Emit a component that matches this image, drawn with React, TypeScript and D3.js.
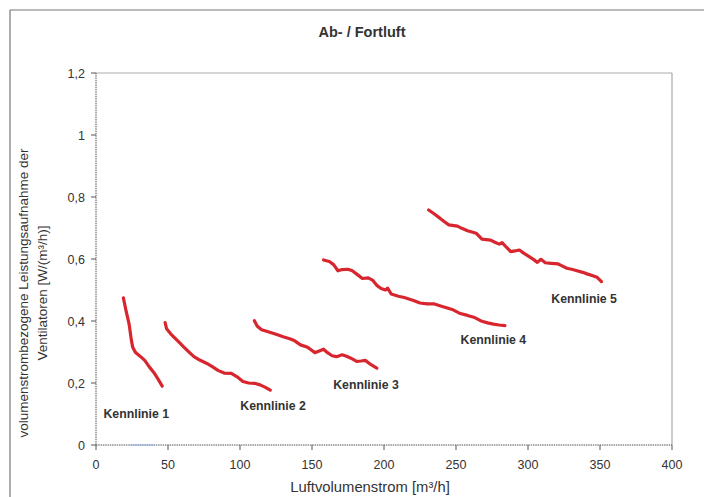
import { line, scaleLinear } from 'd3';

type Pt = [number, number];

const title = 'Ab- / Fortluft';
const xTitle = 'Luftvolumenstrom [m³/h]';
const yTitleLines = ['volumenstrombezogene Leistungsaufnahme der', 'Ventilatoren [W/(m³/h)]'];

const xTicks = [0, 50, 100, 150, 200, 250, 300, 350, 400];
const yTicks = [0, 0.2, 0.4, 0.6, 0.8, 1, 1.2];

const kennlinie1: Pt[] = [
  [19, 0.475], [21, 0.43], [23, 0.39], [24.5, 0.34], [25.5, 0.315], [27.5, 0.298],
  [31, 0.285], [34, 0.272], [37, 0.252], [40, 0.235], [43, 0.213], [46, 0.19],
];
const kennlinie2: Pt[] = [
  [48, 0.395], [49, 0.375], [52, 0.358], [55, 0.344], [58, 0.33], [61, 0.316], [65, 0.298],
  [68, 0.285], [72, 0.274], [77, 0.263], [81, 0.252], [85, 0.24], [89, 0.232], [94, 0.231],
  [98, 0.22], [102, 0.205], [106, 0.2], [110, 0.199], [114, 0.194], [118, 0.185], [121, 0.177],
];
const kennlinie3: Pt[] = [
  [110, 0.401], [112, 0.383], [115, 0.372], [119, 0.366], [125, 0.357], [130, 0.349],
  [135, 0.342], [138, 0.336], [142, 0.323], [147, 0.315], [150, 0.305], [152, 0.298],
  [155, 0.303], [158, 0.309], [161, 0.297], [164, 0.288], [167, 0.285], [171, 0.291],
  [174, 0.286], [177, 0.28], [181, 0.27], [184, 0.271], [187, 0.273], [191, 0.259], [195, 0.248],
];
const kennlinie4: Pt[] = [
  [158, 0.597], [162, 0.592], [165, 0.582], [168, 0.562], [171, 0.566], [175, 0.567],
  [178, 0.562], [182, 0.548], [185, 0.537], [189, 0.539], [192, 0.532], [195, 0.515],
  [198, 0.505], [201, 0.5], [202.5, 0.506], [205, 0.487], [210, 0.48], [214, 0.476],
  [220, 0.467], [225, 0.458], [230, 0.455], [235, 0.455], [241, 0.446], [248, 0.436],
  [253, 0.424], [258, 0.418], [263, 0.411], [268, 0.399], [272, 0.394], [276, 0.39],
  [280, 0.387], [284, 0.385],
];
const kennlinie5: Pt[] = [
  [231, 0.758], [235, 0.745], [239, 0.731], [242, 0.72], [245, 0.71], [251, 0.706],
  [254, 0.699], [258, 0.691], [264, 0.683], [266, 0.674], [268, 0.664], [274, 0.661],
  [277, 0.654], [280, 0.648], [282, 0.653], [285, 0.638], [288, 0.624], [291, 0.626],
  [294, 0.629], [297, 0.619], [300, 0.61], [304, 0.598], [306.5, 0.589], [309, 0.599],
  [312, 0.588], [316, 0.586], [321, 0.584], [324, 0.577], [327, 0.57], [331, 0.566],
  [334, 0.562], [338, 0.557], [341, 0.552], [345, 0.546], [348, 0.541], [351, 0.527],
];
const curves = [kennlinie1, kennlinie2, kennlinie3, kennlinie4, kennlinie5];

// label anchors (left edge, baseline) in data units
const labelNames = ['Kennlinie 1', 'Kennlinie 2', 'Kennlinie 3', 'Kennlinie 4', 'Kennlinie 5'];
const labelAnchors: Pt[] = [[5.2, 0.088], [100.2, 0.113], [164.7, 0.18], [253.2, 0.325], [316.2, 0.457]];

// faint blue trace lying on the x axis
const baselineTrace: Pt[] = [[24, 0], [41, 0]];

const width = 704;
const height = 497;
const plot = { left: 96, right: 672, top: 73, bottom: 445 };
const font = '"Liberation Sans", Arial, sans-serif';
const textColor = '#333';

const fmt = (v: number) => String(Math.round(v * 10) / 10).replace('.', ',');

export default function App() {
  const x = scaleLinear().domain([0, 400]).range([plot.left, plot.right]);
  const y = scaleLinear().domain([0, 1.2]).range([plot.bottom, plot.top]);
  const path = line<Pt>().x(d => x(d[0])).y(d => y(d[1]));

  const yTitleY = 293;

  return (
    <svg
      width={width}
      height={height}
      viewBox={`0 0 ${width} ${height}`}
      style={{ position: 'absolute', left: 0, top: 0, background: '#fff' }}
      fontFamily={font}
    >
      {/* outer frame of the figure */}
      <line x1={10} x2={width} y1={10} y2={10} stroke="#777" strokeWidth={1.2} />
      <line x1={10} x2={10} y1={10} y2={height} stroke="#777" strokeWidth={1.2} />

      <text x={362} y={37} textAnchor="middle" fontSize={14.5} fontWeight="bold" fill={textColor}>{title}</text>

      {/* plot box */}
      <line x1={plot.left} x2={plot.right} y1={plot.top} y2={plot.top} stroke="#aaa" />
      <line x1={plot.right} x2={plot.right} y1={plot.top} y2={plot.bottom} stroke="#999" />

      {/* y axis */}
      <line x1={plot.left} x2={plot.left} y1={plot.top} y2={plot.bottom} stroke="#555" strokeDasharray="1.5 0.8" />
      {yTicks.map(t => (
        <g key={t}>
          <line x1={plot.left - 5} x2={plot.left} y1={y(t)} y2={y(t)} stroke="#555" />
          <text x={plot.left - 11} y={y(t) + 4.5} textAnchor="end" fontSize={12.5} fill={textColor}>{fmt(t)}</text>
        </g>
      ))}

      {/* x axis */}
      <line x1={plot.left} x2={plot.right} y1={plot.bottom} y2={plot.bottom} stroke="#555" strokeDasharray="1.5 0.8" />
      {xTicks.map(t => (
        <g key={t}>
          <line x1={x(t)} x2={x(t)} y1={plot.bottom} y2={plot.bottom + 5} stroke="#555" />
          <text x={x(t)} y={plot.bottom + 24} textAnchor="middle" fontSize={12.5} fill={textColor}>{t}</text>
        </g>
      ))}

      <path d={path(baselineTrace) ?? ''} fill="none" stroke="#9fb4e8" strokeWidth={1.2} />

      {curves.map((c, i) => (
        <path key={i} d={path(c) ?? ''} fill="none" stroke="#d8262f" strokeWidth={3.2} strokeLinejoin="round" strokeLinecap="round" />
      ))}

      {labelNames.map((name, i) => (
        <text key={name} x={x(labelAnchors[i][0])} y={y(labelAnchors[i][1])} fontSize={12.3} fontWeight="bold" fill={textColor}>{name}</text>
      ))}

      <text x={370} y={492} textAnchor="middle" fontSize={14.8} fill={textColor}>{xTitle}</text>

      {yTitleLines.map((l, i) => (
        <text
          key={l}
          transform={`translate(${28 + i * 19},${yTitleY}) rotate(-90)`}
          textAnchor="middle"
          fontSize={13.5}
          fill={textColor}
        >{l}</text>
      ))}
    </svg>
  );
}
